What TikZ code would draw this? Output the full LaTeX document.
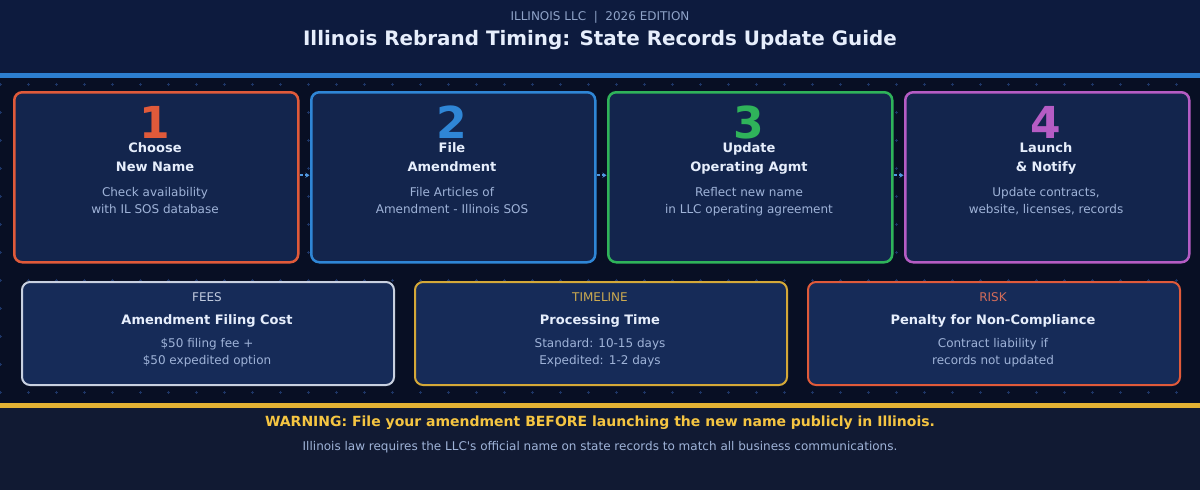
\documentclass[tikz,border=0pt]{standalone}
\usepackage{fontspec}
\setmainfont{DejaVu Sans}
\usetikzlibrary{arrows.meta}
\definecolor{hdrbg}{HTML}{0D1B3E}
\definecolor{midbg}{HTML}{080F24}
\definecolor{ftrbg}{HTML}{111A33}
\definecolor{blueline}{HTML}{2D7FD0}
\definecolor{goldline}{HTML}{E3B234}
\definecolor{gridc}{HTML}{1D3566}
\definecolor{stepfill}{HTML}{13254D}
\definecolor{infofill}{HTML}{162B58}
\definecolor{cred}{HTML}{E05A3A}
\definecolor{cblue}{HTML}{2F86D6}
\definecolor{cgreen}{HTML}{2FB35A}
\definecolor{cpurple}{HTML}{B55CC4}
\definecolor{cgrey}{HTML}{C8D0E0}
\definecolor{cgold}{HTML}{D4A838}
\definecolor{titlec}{HTML}{E6EEFC}
\definecolor{subc}{HTML}{8FA3C8}
\definecolor{descc}{HTML}{9FB3D8}
\definecolor{warnc}{HTML}{F5C542}
\definecolor{arrowc}{HTML}{4F97E0}
\tikzset{
  x=1pt, y=-1pt,
  stepbox/.style={draw=#1, line width=2.5pt, fill=stepfill, rounded corners=8pt, minimum width=284pt, minimum height=170pt, anchor=north west, inner sep=0pt},
  infobox/.style={draw=#1, line width=2pt, fill=infofill, rounded corners=8pt, minimum width=372pt, minimum height=103pt, anchor=north west, inner sep=0pt},
  numtxt/.style={text=#1, font=\bfseries\fontsize{44}{44}\selectfont, anchor=base, inner sep=0pt},
  ttltxt/.style={text=titlec, font=\bfseries\fontsize{13}{13}\selectfont, anchor=base, inner sep=0pt},
  dsctxt/.style={text=descc, font=\fontsize{12}{12}\selectfont, anchor=base, inner sep=0pt},
  lbltxt/.style={text=#1, font=\fontsize{12}{12}\selectfont, anchor=base, inner sep=0pt},
  flowarrow/.style={draw=arrowc, line width=2pt, dash pattern=on 3pt off 2pt, -{Stealth[length=4pt,width=5pt]}, shorten <=0.5pt, shorten >=0.5pt},
  gridplus/.style={draw=gridc, line width=0.6pt}
}
\begin{document}
\begin{tikzpicture}
\useasboundingbox (0,0) rectangle (1200,490);
% backgrounds
\fill[hdrbg] (0,0) rectangle (1200,74);
\fill[midbg] (0,74) rectangle (1200,404);
\fill[ftrbg] (0,404) rectangle (1200,490);
% grid pluses
\foreach \i in {0,...,42}{
  \foreach \j in {0,...,11}{
    \draw[gridplus] ({\i*28-1.5},{84+\j*28}) -- ({\i*28+1.5},{84+\j*28})
                    ({\i*28},{84+\j*28-1.5}) -- ({\i*28},{84+\j*28+1.5});
  }
}
% lines
\fill[blueline] (0,73) rectangle (1200,78);
\fill[goldline] (0,403) rectangle (1200,408);
% header
\node[text=subc, font=\fontsize{12}{12}\selectfont, anchor=base, inner sep=0pt] (sub) at (600,20) {ILLINOIS LLC\ \ |\ \ 2026 EDITION};
\node[text=titlec, font=\bfseries\fontsize{19.9}{19.9}\selectfont, anchor=base, inner sep=0pt] (ttl) at (600,45) {Illinois Rebrand Timing: State Records Update Guide};
% step boxes
\node[stepbox=cred] (s1) at (13,91) {};
\node[stepbox=cblue] (s2) at (310,91) {};
\node[stepbox=cgreen] (s3) at (607,91) {};
\node[stepbox=cpurple] (s4) at (904,91) {};
\draw[flowarrow] ([yshift=2pt]s1.east) -- ([yshift=2pt]s2.west);
\draw[flowarrow] ([yshift=2pt]s2.east) -- ([yshift=2pt]s3.west);
\draw[flowarrow] ([yshift=2pt]s3.east) -- ([yshift=2pt]s4.west);
% step texts
\node[numtxt=cred] (n1) at (155,138.5) {1};
\node[ttltxt] (t1a) at (155,152) {Choose};
\node[ttltxt] (t1b) at (155,171) {New Name};
\node[dsctxt] (d1a) at (155,196.5) {Check availability};
\node[dsctxt] (d1b) at (155,213.5) {with IL SOS database};
\node[numtxt=cblue] (n2) at (452,138.5) {2};
\node[ttltxt] (t2a) at (452,152) {File};
\node[ttltxt] (t2b) at (452,171) {Amendment};
\node[dsctxt] (d2a) at (452,196.5) {File Articles of};
\node[dsctxt] (d2b) at (452,213.5) {Amendment - Illinois SOS};
\node[numtxt=cgreen] (n3) at (749,138.5) {3};
\node[ttltxt] (t3a) at (749,152) {Update};
\node[ttltxt] (t3b) at (749,171) {Operating Agmt};
\node[dsctxt] (d3a) at (749,196.5) {Reflect new name};
\node[dsctxt] (d3b) at (749,213.5) {in LLC operating agreement};
\node[numtxt=cpurple] (n4) at (1046,138.5) {4};
\node[ttltxt] (t4a) at (1046,152) {Launch};
\node[ttltxt] (t4b) at (1046,171) {\& Notify};
\node[dsctxt] (d4a) at (1046,196.5) {Update contracts,};
\node[dsctxt] (d4b) at (1046,213.5) {website, licenses, records};
% info boxes
\node[infobox=cgrey] (b1) at (21,281) {};
\node[infobox=cgold] (b2) at (414,281) {};
\node[infobox=cred] (b3) at (807,281) {};
\node[lbltxt=cgrey!80!descc] (l1) at (207,301.7) {FEES};
\node[ttltxt] (h1) at (207,324.3) {Amendment Filing Cost};
\node[dsctxt] (e1a) at (207,347.7) {\$50 filing fee +};
\node[dsctxt] (e1b) at (207,364.3) {\$50 expedited option};
\node[lbltxt=cgold!85!descc] (l2) at (600,301.7) {TIMELINE};
\node[ttltxt] (h2) at (600,324.3) {Processing Time};
\node[dsctxt] (e2a) at (600,347.7) {Standard: 10-15 days};
\node[dsctxt] (e2b) at (600,364.3) {Expedited: 1-2 days};
\node[lbltxt=cred!80!descc] (l3) at (993,301.7) {RISK};
\node[ttltxt] (h3) at (993,324.3) {Penalty for Non-Compliance};
\node[dsctxt] (e3a) at (993,347.7) {Contract liability if};
\node[dsctxt] (e3b) at (993,364.3) {records not updated};
% footer
\node[text=warnc, font=\bfseries\fontsize{14}{14}\selectfont, anchor=base, inner sep=0pt] (warn) at (600,426) {WARNING: File your amendment BEFORE launching the new name publicly in Illinois.};
\node[dsctxt] (note) at (600,450) {Illinois law requires the LLC\textquotesingle s official name on state records to match all business communications.};
\end{tikzpicture}
\end{document}
